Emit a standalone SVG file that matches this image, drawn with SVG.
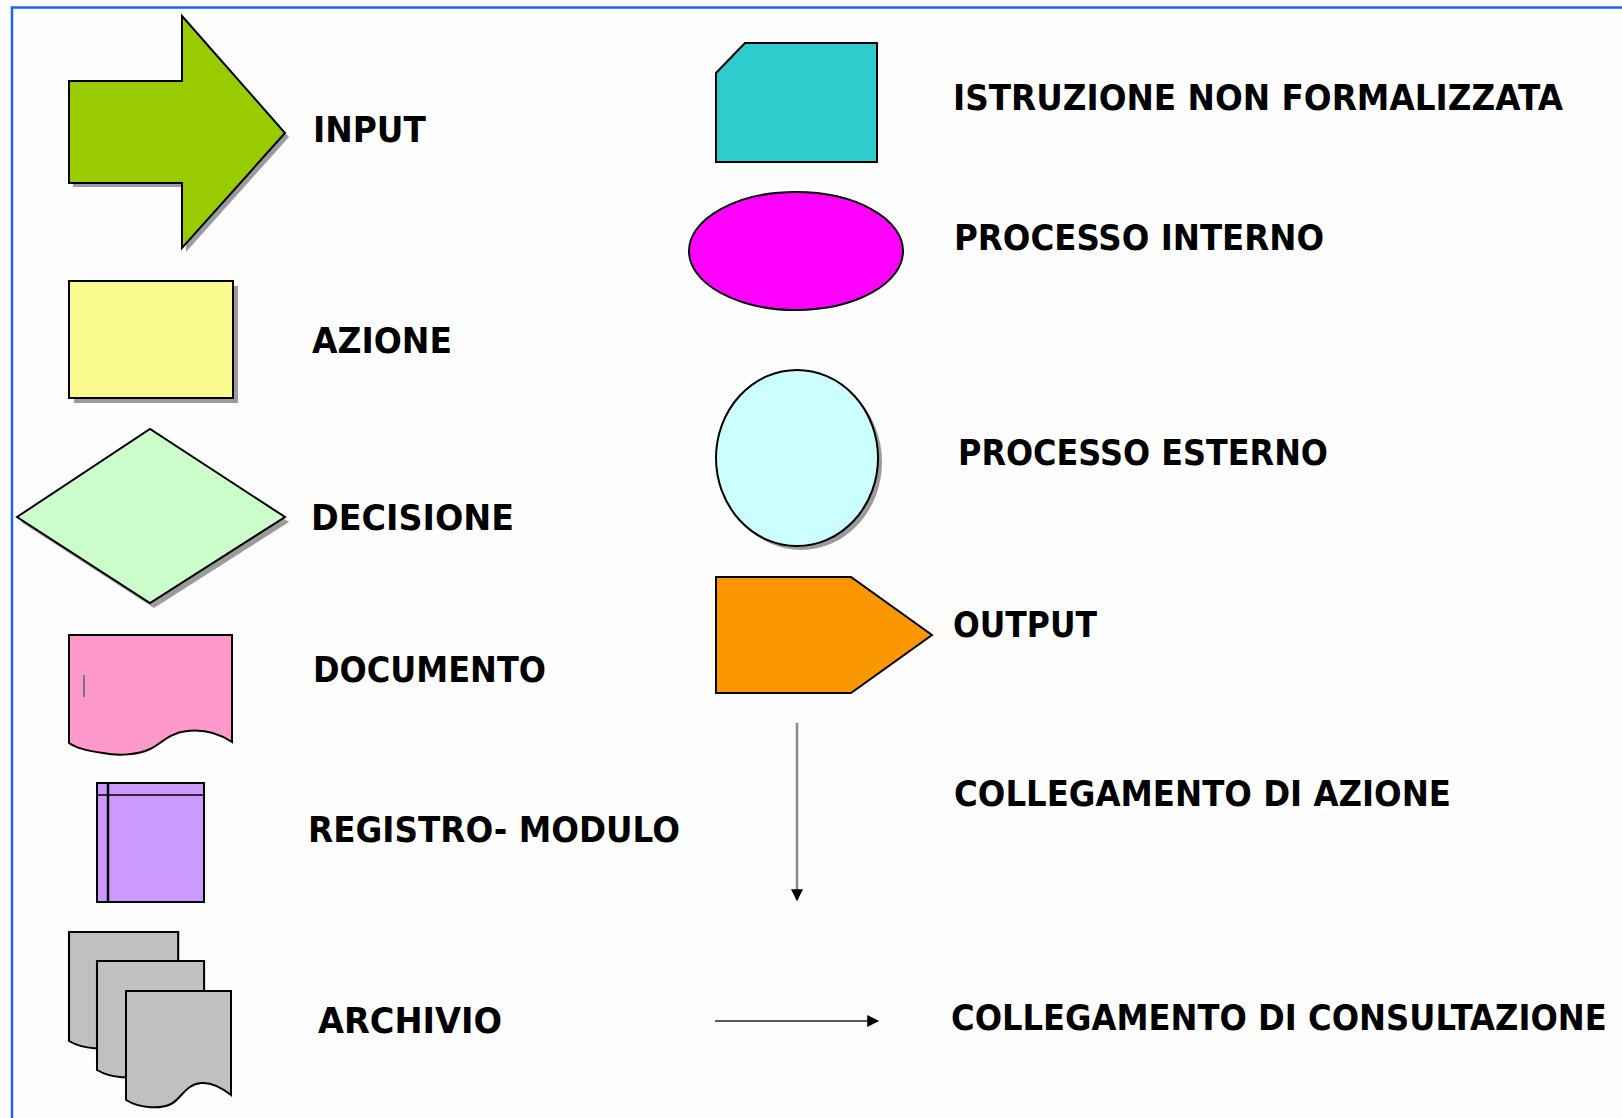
<svg xmlns="http://www.w3.org/2000/svg" width="1622" height="1118" viewBox="0 0 1622 1118">
<style>
.lbl{font-family:"DejaVu Sans","Liberation Sans",sans-serif;font-weight:bold;font-size:36px;fill:#000;}
.sh{fill:#7a7a7a;opacity:0.75;}
.ol{stroke:#000;stroke-width:2;stroke-linejoin:miter;}
</style>
<defs>
<marker id="ah" viewBox="0 0 10 10" refX="9" refY="5" markerWidth="14" markerHeight="12" markerUnits="userSpaceOnUse" orient="auto">
<path d="M0,0 L10,5 L0,10 Z" fill="#000"/>
</marker>
<path id="arch" d="M0,0 H105 V104 C95,96 85,91 75,92 C60,93 55,108 45,113 C35,118 15,118 0,109 Z"/>
</defs>
<rect x="0" y="0" width="1622" height="1118" fill="#fefefe"/>
<path d="M12,1118 V7.5 H1622" fill="none" stroke="#1a66f0" stroke-width="2.5"/>

<g id="input">
<polygon class="sh" points="73,85 186,85 186,20 289,137 186,252 186,187 73,187"/>
<polygon class="ol" fill="#99cc00" points="69,81 182,81 182,16 285,133 182,248 182,183 69,183"/>
<text class="lbl" x="313" y="142" textLength="113" lengthAdjust="spacingAndGlyphs">INPUT</text>
</g>

<g id="azione">
<rect class="sh" x="74" y="286" width="164" height="117"/>
<rect class="ol" fill="#fafa8f" x="69" y="281" width="164" height="117"/>
<text class="lbl" x="312" y="353" textLength="140" lengthAdjust="spacingAndGlyphs">AZIONE</text>
</g>

<g id="decisione">
<polygon class="sh" points="21,522 154,434 289,522 154,608"/>
<polygon class="ol" fill="#ccffcc" points="17,517 150,429 285,517 150,603"/>
<text class="lbl" x="311" y="530" textLength="203" lengthAdjust="spacingAndGlyphs">DECISIONE</text>
</g>

<g id="documento">
<path class="ol" fill="#ff99cc" d="M69,635 H232 V742 C220,734 205,729 187,731 C168,733 160,745 150,749 C138,755 118,756 103,753 C88,751 76,748 69,743 Z"/>
<line x1="84" y1="675" x2="84" y2="697" stroke="#777" stroke-width="2"/>
<text class="lbl" x="313" y="682" textLength="233" lengthAdjust="spacingAndGlyphs">DOCUMENTO</text>
</g>

<g id="registro">
<rect class="ol" fill="#cc99ff" x="97" y="783" width="107" height="119"/>
<line x1="97" y1="795" x2="204" y2="795" stroke="#000" stroke-width="1.5"/>
<line x1="108" y1="783" x2="108" y2="902" stroke="#000" stroke-width="2.5"/>
<text class="lbl" x="308" y="842" textLength="372" lengthAdjust="spacingAndGlyphs">REGISTRO- MODULO</text>
</g>

<g id="archivio">
<use href="#arch" class="ol" fill="#c0c0c0" transform="translate(69,932) scale(1.04,1)"/>
<use href="#arch" class="ol" fill="#c0c0c0" transform="translate(97,961) scale(1.02,1)"/>
<use href="#arch" class="ol" fill="#c0c0c0" transform="translate(126,991)"/>
<text class="lbl" x="318" y="1033" textLength="184" lengthAdjust="spacingAndGlyphs">ARCHIVIO</text>
</g>

<g id="istruzione">
<polygon class="ol" fill="#2ecccc" points="745,43 877,43 877,162 716,162 716,73"/>
<text class="lbl" x="953" y="110" textLength="610" lengthAdjust="spacingAndGlyphs">ISTRUZIONE NON FORMALIZZATA</text>
</g>

<g id="processo-interno">
<ellipse class="ol" fill="#ff00ff" cx="796" cy="251" rx="107" ry="59"/>
<text class="lbl" x="954" y="250" textLength="370" lengthAdjust="spacingAndGlyphs">PROCESSO INTERNO</text>
</g>

<g id="processo-esterno">
<ellipse class="sh" cx="801" cy="462" rx="81" ry="88"/>
<ellipse class="ol" fill="#ccffff" cx="797" cy="458" rx="81" ry="88"/>
<text class="lbl" x="958" y="465" textLength="370" lengthAdjust="spacingAndGlyphs">PROCESSO ESTERNO</text>
</g>

<g id="output">
<polygon class="ol" fill="#fa9600" points="716,577 851,577 932,635 851,693 716,693"/>
<text class="lbl" x="953" y="637" textLength="144" lengthAdjust="spacingAndGlyphs">OUTPUT</text>
</g>

<g id="label-collegamento-azione">
<text class="lbl" x="954" y="806" textLength="497" lengthAdjust="spacingAndGlyphs">COLLEGAMENTO DI AZIONE</text>
</g>
<g id="label-collegamento-consultazione">
<text class="lbl" transform="translate(951,1030) scale(0.885,1)" x="0" y="0" textLength="741" lengthAdjust="spacingAndGlyphs">COLLEGAMENTO DI CONSULTAZIONE</text>
</g>

<g id="connectors">
<line x1="797" y1="723" x2="797" y2="900" stroke="#8a8a8a" stroke-width="2.5" marker-end="url(#ah)"/>
<line x1="715" y1="1021" x2="878" y2="1021" stroke="#222" stroke-width="1.5" marker-end="url(#ah)"/>
</g>
</svg>
